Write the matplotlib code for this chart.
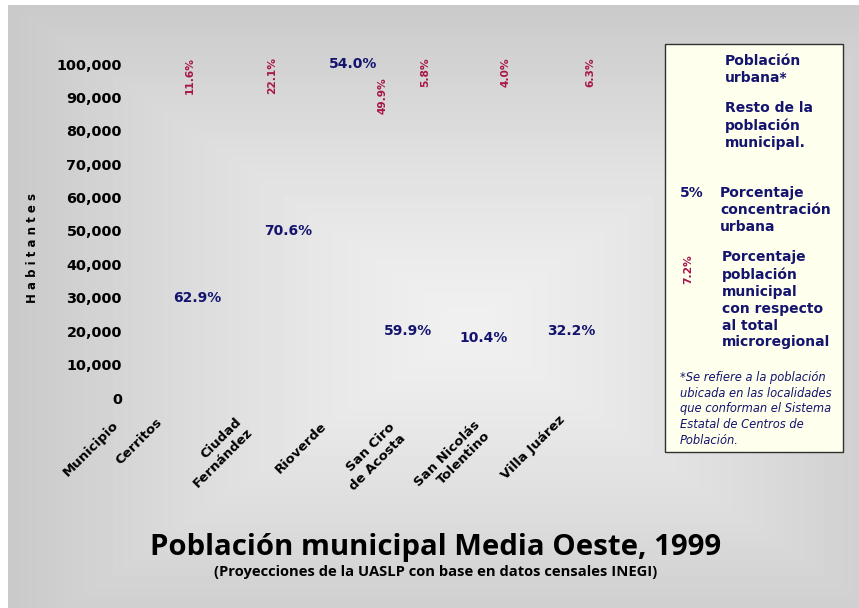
import numpy as np
import matplotlib
matplotlib.use("Agg")
import matplotlib.pyplot as plt
from matplotlib.transforms import offset_copy
from matplotlib.patches import Rectangle
from matplotlib.ticker import FuncFormatter

# Datos
municipios = ["Cerritos", "Ciudad\nFernández", "Rioverde", "San Ciro\nde Acosta",
              "San Nicolás\nTolentino", "Villa Juárez"]
poblacion_urbana = [30000, 50000, 100000, 20000, 18000, 20000]   # altura de la etiqueta azul
pct_urbana = ["62.9%", "70.6%", "54.0%", "59.9%", "10.4%", "32.2%"]
pct_municipal = ["11.6%", "22.1%", "49.9%", "5.8%", "4.0%", "6.3%"]
yticks = [0, 10000, 20000, 30000, 40000, 50000, 60000, 70000, 80000, 90000, 100000]

# Ajustes de colocación (px) de cada etiqueta
dx_azul = [17, 28, 13, -12, -16, -9]
dx_rojo = [10, 12, 43, 5, 6, 10]
dy_rojo = [7, 7, -13, 7, 7, 7]
dx_tick = [-24, -25, -20, -32, -27, -22]
dy_tick = [-18, -17, -22, -23, -20, -15]

AZUL = "#14146e"
ROJO = "#a8154a"

W, H = 859, 608
fig = plt.figure(figsize=(W / 100, H / 100), dpi=100)
fig.patch.set_facecolor("white")

# Fondo gris con degradado
bg = fig.add_axes([8 / W, 0, (W - 8) / W, (H - 5) / H])
yy, xx = np.mgrid[0:603, 0:851]
cx, cy = 460, 320
d = np.maximum(np.abs(xx - cx) / 470, np.abs(yy - cy) / 330)
d = np.clip(d, 0, 1) ** 1.3
img = 240 - 40 * d
bg.imshow(img, cmap="gray", vmin=0, vmax=255, aspect="auto", interpolation="bilinear")
bg.axis("off")

# Eje principal
x0, x1 = 140, 620
ytop, ybot = 64, 398
ax = fig.add_axes([x0 / W, (H - ybot) / H, (x1 - x0) / W, (ybot - ytop) / H])
ax.patch.set_alpha(0)
ax.set_xlim(-0.5, 5.5)
ax.set_ylim(0, 100000)
for s in ax.spines.values():
    s.set_visible(False)
ax.set_yticks(yticks)
ax.yaxis.set_major_formatter(FuncFormatter(lambda v, p: f"{int(v):,}"))
ax.tick_params(axis="y", length=0, pad=13, labelsize=10.4)
for t in ax.get_yticklabels():
    t.set_fontweight("bold")
ax.set_xticks([])

# Etiquetas de municipio (rotadas)
for i, name in enumerate(municipios):
    tr = offset_copy(ax.transData, fig=fig, x=dx_tick[i], y=dy_tick[i], units="dots")
    ax.text(i, 0, name, transform=tr, rotation=45, rotation_mode="anchor",
            ha="right", va="top", fontsize=9.5, fontweight="bold", multialignment="right")
tr = offset_copy(ax.transData, fig=fig, x=-28, y=-20, units="dots")
ax.text(-0.5, 0, "Municipio", transform=tr, rotation=45, rotation_mode="anchor",
        ha="right", va="top", fontsize=9.5, fontweight="bold")

# Porcentaje de concentración urbana (azul)
for i, (v, lab) in enumerate(zip(poblacion_urbana, pct_urbana)):
    tr = offset_copy(ax.transData, fig=fig, x=dx_azul[i], y=0, units="dots")
    ax.text(i, v, lab, transform=tr, ha="center", va="center", color=AZUL,
            fontsize=10, fontweight="bold")

# Porcentaje población municipal (rojo, vertical)
for i, lab in enumerate(pct_municipal):
    tr = offset_copy(ax.transData, fig=fig, x=dx_rojo[i], y=dy_rojo[i], units="dots")
    ax.text(i, 100000, lab, transform=tr, rotation=90, ha="center", va="top",
            color=ROJO, fontsize=7.7, fontweight="bold")

# Título del eje Y
fig.text(33 / W, 1 - 248 / H, "H a b i t a n t e s", rotation=90, ha="center", va="center",
         fontsize=8.5, fontweight="bold")

# Leyenda
fig.patches.append(Rectangle((665 / W, 1 - 452 / H), 178 / W, 408 / H, transform=fig.transFigure,
                             facecolor="#ffffee", edgecolor="#303030", lw=1.0))
kw = dict(color=AZUL, fontsize=10, fontweight="bold", va="top", ha="left", linespacing=1.27)
fig.text(725 / W, 1 - 54 / H, "Población\nurbana*", **kw)
fig.text(725 / W, 1 - 101 / H, "Resto de la\npoblación\nmunicipal.", **kw)
fig.text(680 / W, 1 - 186 / H, "5%", **kw)
fig.text(720 / W, 1 - 186 / H, "Porcentaje\nconcentración\nurbana", **kw)
fig.text(722 / W, 1 - 250 / H, "Porcentaje\npoblación\nmunicipal\ncon respecto\nal total\nmicroregional", **kw)
fig.text(688 / W, 1 - 269 / H, "7.2%", rotation=90, ha="center", va="center",
         color=ROJO, fontsize=7.7, fontweight="bold")
fig.text(680 / W, 1 - 371 / H,
         "*Se refiere a la población\nubicada en las localidades\nque conforman el Sistema\n"
         "Estatal de Centros de\nPoblación.",
         color=AZUL, fontsize=8.3, style="italic", va="top", ha="left", linespacing=1.27)

# Títulos
fig.text(436 / W, 1 - 548 / H, "Población municipal Media Oeste, 1999", ha="center", va="center",
         fontsize=21.2, fontweight="bold", family="Open Sans")
fig.text(436 / W, 1 - 572 / H, "(Proyecciones de la UASLP con base en datos censales INEGI)",
         ha="center", va="center", fontsize=10.6, fontweight="bold", family="Open Sans")

fig.savefig("out.png", dpi=100)
